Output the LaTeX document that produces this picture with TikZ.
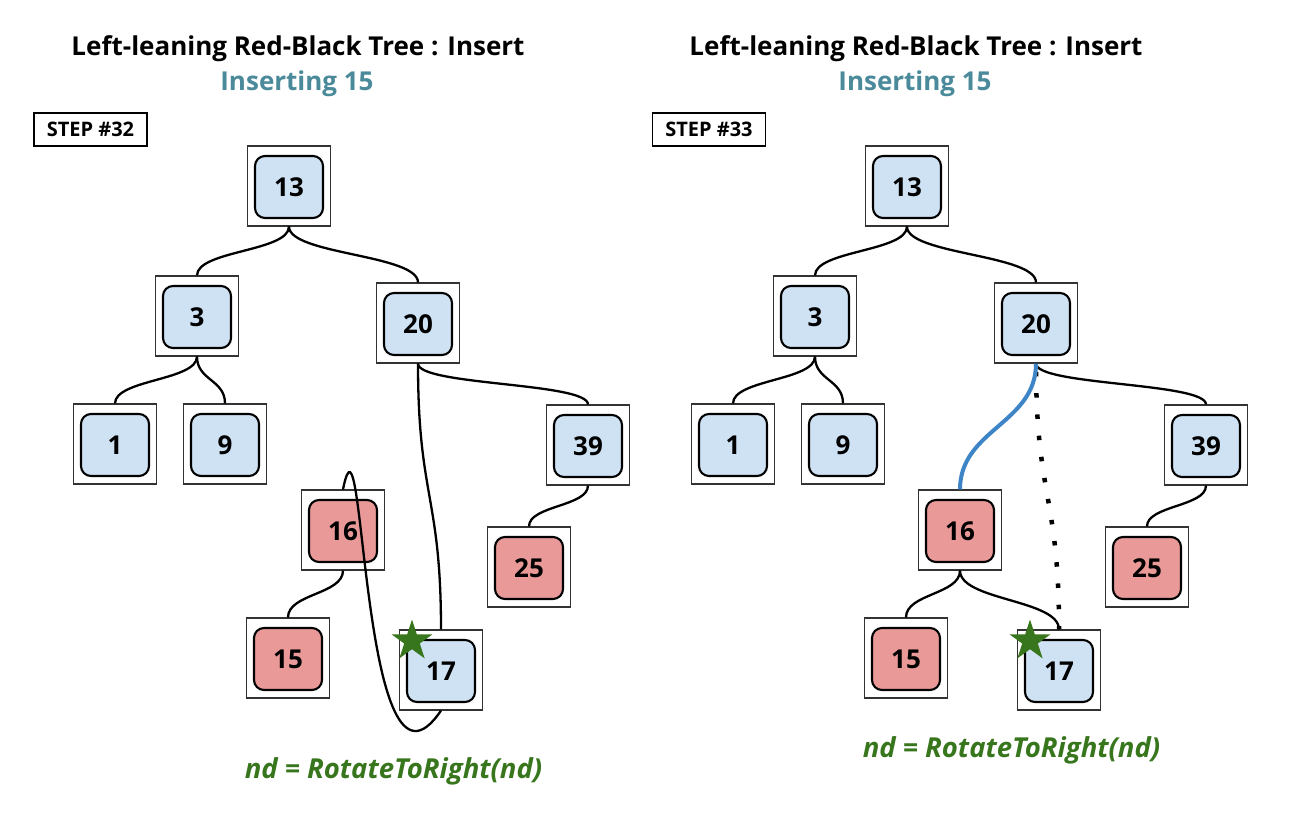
\documentclass[tikz,border=0pt]{standalone}
\usepackage{fontspec}
\setmainfont{Open Sans}
\usetikzlibrary{shapes.geometric}
\definecolor{nblue}{HTML}{CFE2F3}
\definecolor{nred}{HTML}{EA9999}
\definecolor{teal}{HTML}{4A8A9A}
\definecolor{dgreen}{HTML}{38761D}
\definecolor{eblue}{HTML}{3D85C6}
\tikzset{
  outerbox/.style={draw=black!80, line width=1.1pt, minimum width=83pt, minimum height=80pt, inner sep=0pt},
  innerbox/.style={draw=black, line width=2.1pt, rounded corners=10pt, minimum width=68pt, minimum height=62pt, inner sep=0pt, font=\bfseries\fontsize{26}{26}\selectfont},
  treeedge/.style={line width=2.3pt, black},
  titletext/.style={font=\bfseries\fontsize{26}{30}\selectfont},
  subtext/.style={font=\bfseries\fontsize{26}{30}\selectfont, text=teal},
  stepbox/.style={draw=black, line width=1.8pt, minimum width=113pt, minimum height=33pt, inner sep=0pt, font=\bfseries\fontsize{20}{20}\selectfont},
  optext/.style={font=\bfseries\itshape\fontsize{27.5}{28}\selectfont, text=dgreen},
  greenstar/.style={star, star points=5, star point ratio=2.618, fill=dgreen, draw=none, minimum size=43pt, inner sep=0pt}
}
\newcommand{\treenode}[5]{%
  \node[outerbox] (#1) at (#2,#3) {};
  \node[innerbox, fill=#4] (#1i) at (#2,#3+1) {#5};
}
\newcommand{\tedge}[3]{%
  \draw[treeedge] (#1.south) .. controls +(0,#3) and +(0,-#3) .. (#2.north);
}
\begin{document}
\begin{tikzpicture}[x=1pt,y=-1pt]
\useasboundingbox[fill=white] (0,0) rectangle (1302,821);
% ---------------- left panel
\node[titletext] (Ltitle) at (298,49) {Left-leaning Red-Black Tree : Insert};
\node[subtext] (Lsub) at (297,84) {Inserting 15};
\node[stepbox] (Lstep) at (90.5,129.5) {STEP \#32};
\treenode{L13}{289}{186}{nblue}{13}
\treenode{L3}{197}{316}{nblue}{3}
\treenode{L20}{418}{323}{nblue}{20}
\treenode{L1}{115}{444}{nblue}{1}
\treenode{L9}{225}{444}{nblue}{9}
\treenode{L39}{588}{445}{nblue}{39}
\treenode{L16}{343}{530}{nred}{16}
\treenode{L25}{529}{567}{nred}{25}
\treenode{L15}{288}{658}{nred}{15}
\treenode{L17}{441}{670}{nblue}{17}
\tedge{L13}{L3}{25}
\tedge{L13}{L20}{28}
\tedge{L3}{L1}{24}
\tedge{L3}{L9}{24}
\tedge{L20}{L39}{22}
\tedge{L39}{L25}{21}
\tedge{L16}{L15}{24}
\tedge{L20}{L17}{134}
\draw[treeedge] (L16.north) .. controls +(22,-110) and +(-81,120) .. (L17.south);
\node[greenstar] (Lstar) at (412,641) {};
\node[optext] (Lop) at (393.5,771) {nd = RotateToRight(nd)};
% ---------------- right panel
\node[titletext] (Rtitle) at (916,49) {Left-leaning Red-Black Tree : Insert};
\node[subtext] (Rsub) at (915,84) {Inserting 15};
\node[stepbox] (Rstep) at (709,129.5) {STEP \#33};
\treenode{R13}{907}{186}{nblue}{13}
\treenode{R3}{815}{316}{nblue}{3}
\treenode{R20}{1036}{323}{nblue}{20}
\treenode{R1}{733}{444}{nblue}{1}
\treenode{R9}{843}{444}{nblue}{9}
\treenode{R39}{1206}{445}{nblue}{39}
\treenode{R16}{960}{530}{nred}{16}
\treenode{R25}{1147}{567}{nred}{25}
\treenode{R15}{906}{658}{nred}{15}
\treenode{R17}{1059}{670}{nblue}{17}
\tedge{R13}{R3}{25}
\tedge{R13}{R20}{28}
\tedge{R3}{R1}{24}
\tedge{R3}{R9}{24}
\tedge{R20}{R39}{22}
\tedge{R39}{R25}{21}
\tedge{R16}{R15}{24}
\tedge{R16}{R17}{30}
\draw[line width=4.5pt, dash pattern=on 4.5pt off 16.8pt, dash phase=13pt] (R20.south) .. controls +(0,134) and +(0,-134) .. (R17.north);
\draw[line width=4pt, eblue] (R20.south) .. controls +(0,60) and +(0,-60) .. (R16.north);
\node[greenstar] (Rstar) at (1030,641) {};
\node[optext] (Rop) at (1011.5,750) {nd = RotateToRight(nd)};
\end{tikzpicture}
\end{document}
